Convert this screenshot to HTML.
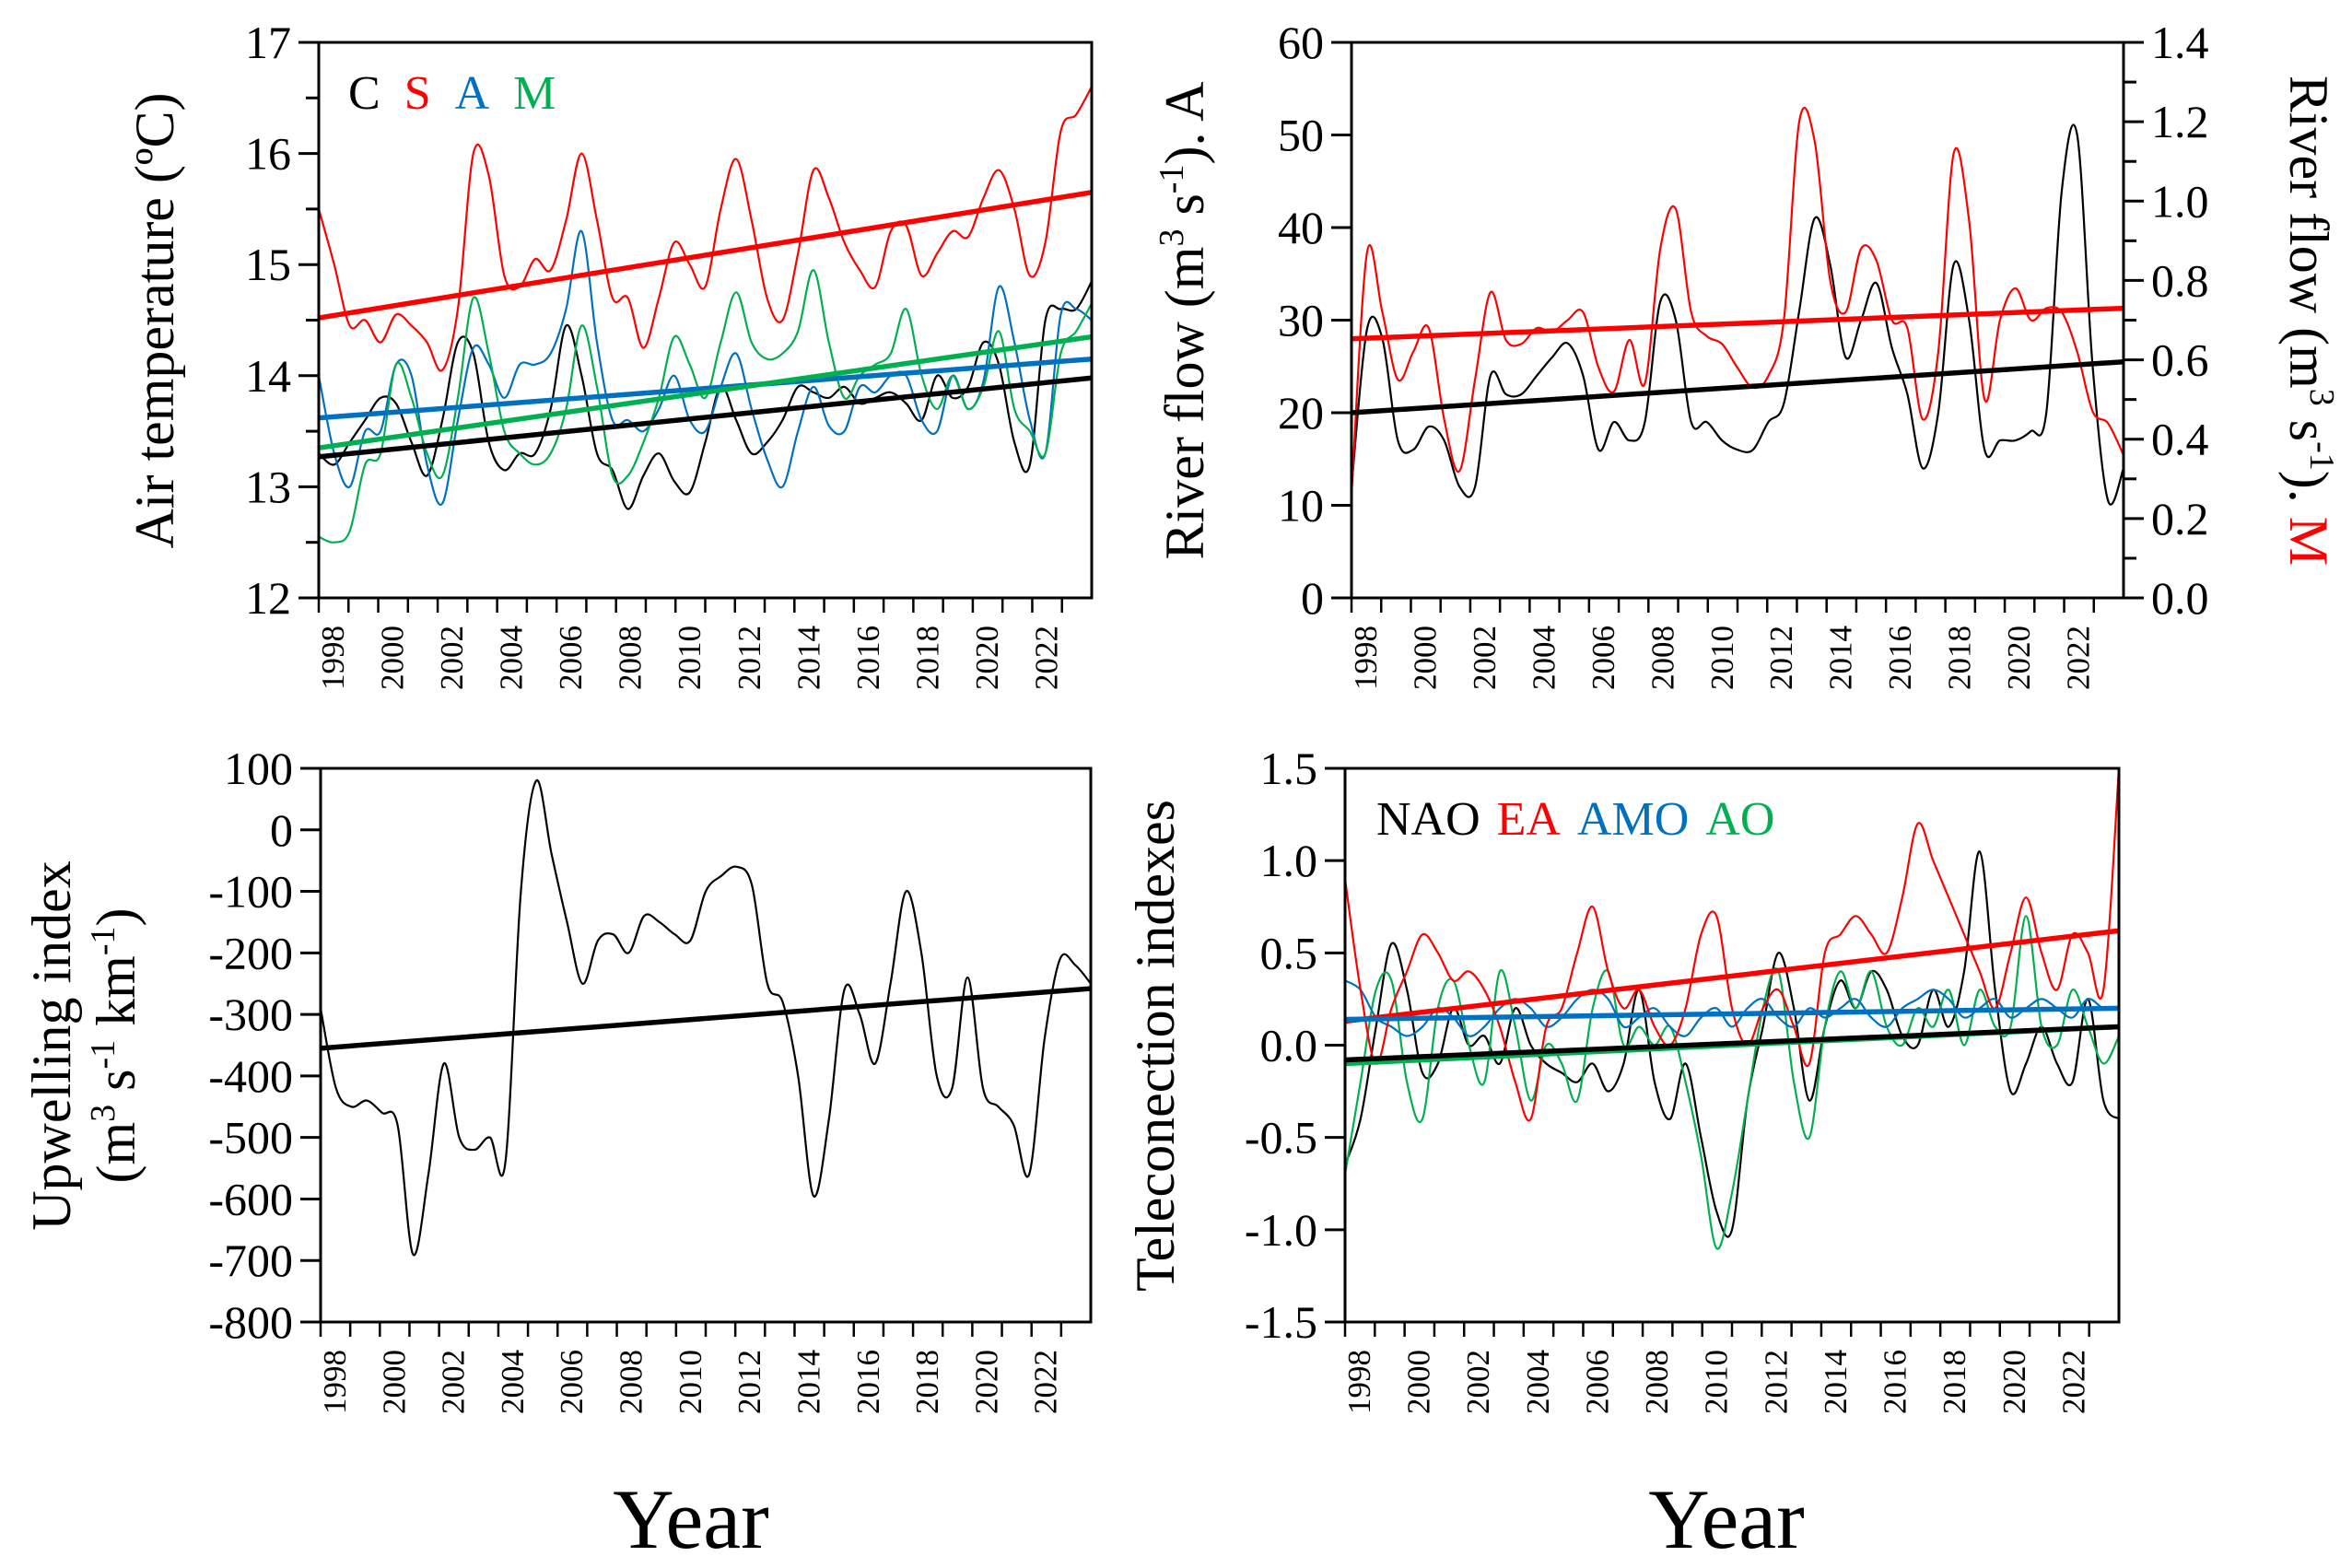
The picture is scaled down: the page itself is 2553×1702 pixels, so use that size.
<!DOCTYPE html>
<html><head><meta charset="utf-8"><title>Climate series</title>
<style>html,body{margin:0;padding:0;background:#fff}svg{display:block}text{font-family:"Liberation Serif",serif}</style>
</head><body>
<svg id="chart" xmlns="http://www.w3.org/2000/svg" width="2553" height="1702" viewBox="0 0 2553 1702"></svg>
<script>
// ---- data (values sampled along 1998..2024, 51 points) ----
const yearTicks = [1998,1999,2000,2001,2002,2003,2004,2005,2006,2007,2008,2009,2010,2011,2012,2013,2014,2015,2016,2017,2018,2019,2020,2021,2022,2023];
const yearLabels = [1998,2000,2002,2004,2006,2008,2010,2012,2014,2016,2018,2020,2022];

const airS = [15.5,15.0,14.45,14.5,14.3,14.55,14.45,14.3,14.05,14.6,16.0,15.8,14.9,14.8,15.05,14.95,15.4,16.0,15.4,14.7,14.7,14.25,14.7,15.2,15.0,14.8,15.5,15.95,15.4,14.7,14.5,15.1,15.85,15.6,15.2,14.95,14.8,15.3,15.35,14.9,15.1,15.3,15.25,15.6,15.85,15.5,14.9,15.2,16.2,16.35,16.6];
const airC = [13.3,13.2,13.4,13.6,13.8,13.75,13.4,13.1,13.6,14.3,14.2,13.4,13.15,13.3,13.3,13.7,14.45,14.0,13.3,13.15,12.8,13.1,13.3,13.05,12.95,13.4,13.9,13.6,13.3,13.4,13.6,13.9,13.85,13.8,13.9,13.75,13.8,13.85,13.75,13.6,14.0,13.8,13.9,14.3,14.1,13.4,13.2,14.5,14.6,14.6,14.85];
const airA = [14.0,13.3,13.0,13.5,13.5,14.1,14.0,13.2,12.85,13.6,14.25,14.1,13.8,14.1,14.1,14.2,14.6,15.3,14.3,13.6,13.6,13.5,13.7,14.0,13.6,13.5,13.9,14.2,13.7,13.25,13.0,13.5,13.9,13.55,13.5,13.9,13.85,14.0,14.0,13.6,13.5,14.0,13.7,13.95,14.8,14.3,13.6,13.3,14.55,14.6,14.5];
const airM = [12.55,12.5,12.6,13.2,13.3,14.1,13.8,13.3,13.1,13.8,14.7,14.2,13.5,13.3,13.2,13.3,13.7,14.45,13.9,13.1,13.1,13.4,13.8,14.35,14.1,13.8,14.3,14.75,14.3,14.15,14.2,14.4,14.95,14.3,13.8,14.0,14.1,14.2,14.6,14.0,13.7,14.0,13.7,13.9,14.4,13.7,13.5,13.3,14.2,14.4,14.65];
const airTrendS = [14.52,15.65], airTrendC = [13.27,13.98], airTrendA = [13.62,14.15], airTrendM = [13.35,14.35];

const flowA = [12,29,28,17,16,18.5,17,12,12,24,22,22,24,26,27.5,24,16,19,17,19,32,30,19,19,17,16,16,19,21,31,41,36,26,30,34,27,22,14,20,36,30,16,17,17,18,20,44,50,25,10.5,14];
const flowM = [0.26,0.87,0.72,0.55,0.62,0.68,0.45,0.32,0.55,0.77,0.65,0.64,0.68,0.67,0.70,0.72,0.58,0.52,0.65,0.54,0.88,0.98,0.72,0.66,0.64,0.58,0.53,0.56,0.70,1.20,1.15,0.80,0.72,0.88,0.85,0.70,0.68,0.45,0.62,1.12,0.95,0.50,0.70,0.78,0.70,0.73,0.72,0.62,0.47,0.44,0.36];
const flowTrendA = [20,25.5], flowTrendM = [0.653,0.73];

const upw = [-290,-420,-450,-440,-460,-480,-690,-560,-380,-500,-520,-500,-540,-100,80,-40,-150,-250,-180,-170,-200,-140,-150,-170,-180,-100,-75,-60,-90,-250,-280,-400,-595,-470,-260,-300,-380,-250,-100,-200,-400,-420,-240,-420,-450,-480,-560,-340,-210,-220,-250];
const upwTrend = [-355,-258];

const nao = [-0.65,-0.4,0.1,0.55,0.3,-0.15,-0.1,0.2,0.0,0.05,-0.1,0.2,0.0,-0.1,-0.15,-0.2,-0.1,-0.25,-0.1,0.3,-0.2,-0.4,-0.1,-0.5,-0.9,-1.0,-0.3,0.1,0.5,0.2,-0.3,0.1,0.35,0.2,0.4,0.3,0.05,0.0,0.3,0.1,0.4,1.05,0.3,-0.25,-0.1,0.1,-0.1,-0.2,0.25,-0.3,-0.4];
const ea = [0.9,0.3,-0.1,0.2,0.4,0.6,0.5,0.35,0.4,0.3,0.1,-0.2,-0.4,0.1,0.2,0.5,0.75,0.4,0.2,0.3,0.1,0.0,0.2,0.6,0.7,0.2,0.0,0.2,0.3,0.1,-0.1,0.5,0.6,0.7,0.6,0.5,0.8,1.2,1.0,0.8,0.6,0.4,0.2,0.5,0.8,0.5,0.3,0.6,0.5,0.3,1.5];
const amo = [0.35,0.3,0.15,0.1,0.05,0.1,0.2,0.15,0.05,0.1,0.2,0.25,0.2,0.1,0.15,0.25,0.3,0.25,0.1,0.15,0.2,0.1,0.05,0.15,0.2,0.1,0.2,0.25,0.15,0.1,0.2,0.15,0.2,0.25,0.15,0.1,0.2,0.25,0.3,0.25,0.15,0.2,0.25,0.15,0.2,0.25,0.2,0.15,0.25,0.2,0.2];
const ao = [-0.7,-0.2,0.3,0.35,-0.2,-0.4,0.2,0.35,0.0,-0.2,0.4,0.1,-0.3,0.0,-0.1,-0.3,0.2,0.4,0.0,0.1,0.0,0.1,-0.2,-0.6,-1.1,-0.8,-0.3,0.2,0.4,-0.2,-0.5,0.1,0.4,0.2,0.4,0.1,0.0,0.2,0.1,0.3,0.0,0.3,0.1,0.1,0.7,0.1,0.0,0.3,0.1,-0.1,0.05];
const naoTrend=[-0.08,0.1], eaTrend=[0.13,0.62], amoTrend=[0.14,0.2], aoTrend=[-0.1,0.1];

const tT = airS.map((_, i) => 1998 + i * 26 / (airS.length - 1));

// ---- drawing ----
const svg = document.getElementById('chart');
const NS = 'http://www.w3.org/2000/svg';
function el(tag, attrs, parent) {
  const e = document.createElementNS(NS, tag);
  for (const k in attrs) e.setAttribute(k, attrs[k]);
  (parent || svg).appendChild(e);
  return e;
}
const RED = '#ff0000', BLUE = '#0070c0', GREEN = '#00b050';
const TICKFS = 50;

function smoothPath(pts) {
  let d = 'M' + pts[0][0].toFixed(1) + ' ' + pts[0][1].toFixed(1);
  for (let i = 0; i < pts.length - 1; i++) {
    const p0 = pts[Math.max(0, i - 1)], p1 = pts[i], p2 = pts[i + 1], p3 = pts[Math.min(pts.length - 1, i + 2)];
    const c1 = [p1[0] + (p2[0] - p0[0]) / 6, p1[1] + (p2[1] - p0[1]) / 6];
    const c2 = [p2[0] - (p3[0] - p1[0]) / 6, p2[1] - (p3[1] - p1[1]) / 6];
    d += ' C' + c1[0].toFixed(1) + ' ' + c1[1].toFixed(1) + ' ' + c2[0].toFixed(1) + ' ' + c2[1].toFixed(1) + ' ' + p2[0].toFixed(1) + ' ' + p2[1].toFixed(1);
  }
  return d;
}

function panel(p) {
  const g = el('g', {});
  
  
  const sx = t => p.x0 + (t - 1998) / 26 * (p.x1 - p.x0);
  const sy = v => p.y1 - (v - p.ymin) / (p.ymax - p.ymin) * (p.y1 - p.y0);
  p.sx = sx; p.sy = sy;
  p.series.forEach(s => {
    const vals = s.right ? s.data.map(v => v * p.rscale) : s.data;
    const pts = vals.map((v, i) => [sx(tT[i]), sy(v)]);
    const path = el('path', {d: smoothPath(pts), fill: 'none', stroke: s.color, 'stroke-width': 2.2}, g);
    
    
  });
  p.trends.forEach(s => {
    const tv = s.right ? s.data.map(v => v * p.rscale) : s.data;
    const ln = el('line', {x1: sx(1998), y1: sy(tv[0]), x2: sx(2024), y2: sy(tv[1]), stroke: s.color, 'stroke-width': 5.5}, g);
    
    
  });
  const fr = el('rect', {x: p.x0, y: p.y0, width: p.x1 - p.x0, height: p.y1 - p.y0, fill: 'none', stroke: '#000', 'stroke-width': 3}, g);
  
  
  p.yticks.forEach((v, i) => {
    const y = sy(v);
    el('line', {x1: p.x0 - 22, y1: y, x2: p.x0, y2: y, stroke: '#000', 'stroke-width': 3}, g);
    const t = el('text', {x: p.x0 - 30, y: y + 17, 'text-anchor': 'end', 'font-size': TICKFS}, g);
    t.textContent = p.ylabels[i];
    
    
  });
  (p.yminor || []).forEach(v => {
    el('line', {x1: p.x0 - 14, y1: sy(v), x2: p.x0, y2: sy(v), stroke: '#000', 'stroke-width': 3}, g);
  });
  yearTicks.forEach(yr => {
    el('line', {x1: sx(yr), y1: p.y1, x2: sx(yr), y2: p.y1 + 16, stroke: '#000', 'stroke-width': 2.5}, g);
  });
  yearLabels.forEach(yr => {
    const x = sx(yr) + 27, y = p.y1 + 30;
    const t = el('text', {x: x, y: y, 'text-anchor': 'end', 'font-size': 35, transform: 'rotate(-90 ' + x + ' ' + y + ')'}, g);
    t.textContent = yr;
    
    
  });
  return g;
}

panel({name: 'air-temperature-panel', x0: 346, x1: 1185, y0: 46, y1: 649, ymin: 12, ymax: 17,
  yticks: [12,13,14,15,16,17], ylabels: ['12','13','14','15','16','17'], yminor: [12.5,13.5,14.5,15.5,16.5],
  series: [{id:'air-c',data:airC,color:'#000'},{id:'air-a',data:airA,color:BLUE},{id:'air-m',data:airM,color:GREEN},{id:'air-s',data:airS,color:RED}],
  trends: [{id:'air-s',data:airTrendS,color:RED},{id:'air-a',data:airTrendA,color:BLUE},{id:'air-m',data:airTrendM,color:GREEN},{id:'air-c',data:airTrendC,color:'#000'}]});

const p2 = {name: 'river-flow-panel', x0: 1467, x1: 2305, y0: 46, y1: 649, ymin: 0, ymax: 60, rscale: 60/1.4,
  yticks: [0,10,20,30,40,50,60], ylabels: ['0','10','20','30','40','50','60'],
  series: [{id:'flow-a',data:flowA,color:'#000'},{id:'flow-m',data:flowM,color:RED,right:true}],
  trends: [{id:'flow-m',data:flowTrendM,color:RED,right:true},{id:'flow-a',data:flowTrendA,color:'#000'}]};
const g2 = panel(p2);
const rTicks = [0,0.2,0.4,0.6,0.8,1.0,1.2,1.4];
rTicks.forEach(v => {
  const y = p2.sy(v * p2.rscale);
  el('line', {x1: p2.x1, y1: y, x2: p2.x1 + 22, y2: y, stroke: '#000', 'stroke-width': 3}, g2);
  const t = el('text', {x: p2.x1 + 30, y: y + 17, 'font-size': TICKFS}, g2);
  t.textContent = v.toFixed(1);
  
  
  if (v < 1.4) {
    const ym = p2.sy((v + 0.1) * p2.rscale);
    el('line', {x1: p2.x1, y1: ym, x2: p2.x1 + 14, y2: ym, stroke: '#000', 'stroke-width': 3}, g2);
  }
});

panel({name: 'upwelling-panel', x0: 348, x1: 1184, y0: 834, y1: 1435, ymin: -800, ymax: 100,
  yticks: [-800,-700,-600,-500,-400,-300,-200,-100,0,100], ylabels: ['-800','-700','-600','-500','-400','-300','-200','-100','0','100'],
  series: [{id:'upwelling',data:upw,color:'#000'}],
  trends: [{id:'upwelling',data:upwTrend,color:'#000'}]});

panel({name: 'teleconnection-panel', x0: 1460, x1: 2300, y0: 834, y1: 1435, ymin: -1.5, ymax: 1.5,
  yticks: [-1.5,-1,-0.5,0,0.5,1,1.5], ylabels: ['-1.5','-1.0','-0.5','0.0','0.5','1.0','1.5'],
  series: [{id:'nao',data:nao,color:'#000'},{id:'ao',data:ao,color:GREEN},{id:'amo',data:amo,color:BLUE},{id:'ea',data:ea,color:RED}],
  trends: [{id:'ea',data:eaTrend,color:RED},{id:'amo',data:amoTrend,color:BLUE},{id:'ao',data:aoTrend,color:GREEN},{id:'nao',data:naoTrend,color:'#000'}]});
</script>
<svg style="position:absolute;left:0;top:0" width="2553" height="1702">
  <g font-family="Liberation Serif, serif">
    <text x="378" y="118" font-size="52"><tspan fill="#000">C</tspan><tspan dx="26" fill="#ff0000">S</tspan><tspan dx="26" fill="#0070c0">A</tspan><tspan dx="26" fill="#00b050">M</tspan></text>
    <text x="1494" y="906" font-size="52"><tspan fill="#000">NAO</tspan><tspan dx="18" fill="#ff0000">EA</tspan><tspan dx="18" fill="#0070c0">AMO</tspan><tspan dx="18" fill="#00b050">AO</tspan></text>
    <text transform="translate(188 348) rotate(-90)" text-anchor="middle" font-size="60">Air temperature (ºC)</text>
    <text transform="translate(1306 348) rotate(-90)" text-anchor="middle" font-size="60">River flow (m<tspan font-size="38" dy="-22">3</tspan><tspan dy="22"> s</tspan><tspan font-size="38" dy="-22">-1</tspan><tspan dy="22">). A</tspan></text>
    <text transform="translate(2486 348) rotate(90)" text-anchor="middle" font-size="60">River flow (m<tspan font-size="38" dy="-22">3</tspan><tspan dy="22"> s</tspan><tspan font-size="38" dy="-22">-1</tspan><tspan dy="22">). </tspan><tspan fill="#ff0000">M</tspan></text>
    <text transform="translate(76 1135) rotate(-90)" text-anchor="middle" font-size="60">Upwelling index</text>
    <text transform="translate(146 1135) rotate(-90)" text-anchor="middle" font-size="60">(m<tspan font-size="38" dy="-22">3</tspan><tspan dy="22"> s</tspan><tspan font-size="38" dy="-22">-1</tspan><tspan dy="22"> km</tspan><tspan font-size="38" dy="-22">-1</tspan><tspan dy="22">)</tspan></text>
    <text transform="translate(1274 1135) rotate(-90)" text-anchor="middle" font-size="60">Teleconection indexes</text>
    <text x="750" y="1680" text-anchor="middle" font-size="92">Year</text>
    <text x="1874" y="1680" text-anchor="middle" font-size="92">Year</text>
  </g>
</svg>
</body></html>
